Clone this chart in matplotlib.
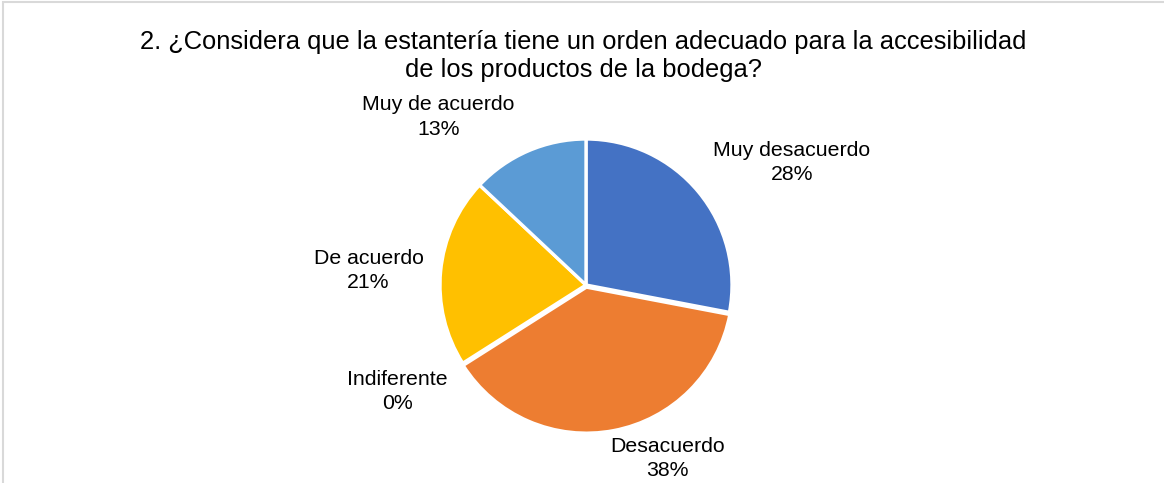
import matplotlib.pyplot as plt
from matplotlib.patches import Rectangle

categorias = ['Muy desacuerdo', 'Desacuerdo', 'Indiferente', 'De acuerdo', 'Muy de acuerdo']
porcentajes = [28, 38, 0, 21, 13]
colores = ['#4472C4', '#ED7D31', '#A5A5A5', '#FFC000', '#5B9BD5']

titulo = ('2. ¿Considera que la estantería tiene un orden adecuado para la accesibilidad\n'
          'de los productos de la bodega?')

# posicion de cada etiqueta (radio del pastel = 1)
pos_etiquetas = [(1.41, 0.84), (0.56, -1.19), (-1.29, -0.73), (-1.49, 0.10), (-1.01, 1.15)]

plt.rcParams['font.family'] = ['Liberation Sans', 'DejaVu Sans']

fig = plt.figure(figsize=(11.64, 4.83), dpi=100)
ax = fig.add_axes([0, 0, 1, 1])

ax.pie(porcentajes, colors=colores, startangle=90, counterclock=False,
       explode=[0, 0.015, 0, 0, 0],
       wedgeprops=dict(edgecolor='white', linewidth=2.4), radius=1)

for cat, p, (x, y) in zip(categorias, porcentajes, pos_etiquetas):
    ax.text(x, y, f'{cat}\n{p}%', ha='center', va='center', fontsize=15.3,
            color='black', linespacing=1.36)

ax.set_xlim(-586 / 146, (1164 - 586) / 146)
ax.set_ylim(-(483 - 285) / 146, 285 / 146)
ax.set_aspect('auto')
ax.axis('off')

fig.text(0.501, 0.884, titulo, ha='center', va='center', fontsize=18.4,
         color='black', linespacing=1.17)

# marco gris del grafico
fig.patches.append(Rectangle((3 / 1164, -0.01), 1.0, 1 - 2 / 483 + 0.01,
                             transform=fig.transFigure, fill=False,
                             edgecolor='#D9D9D9', linewidth=1.5))

fig.savefig('out.png', dpi=100)
